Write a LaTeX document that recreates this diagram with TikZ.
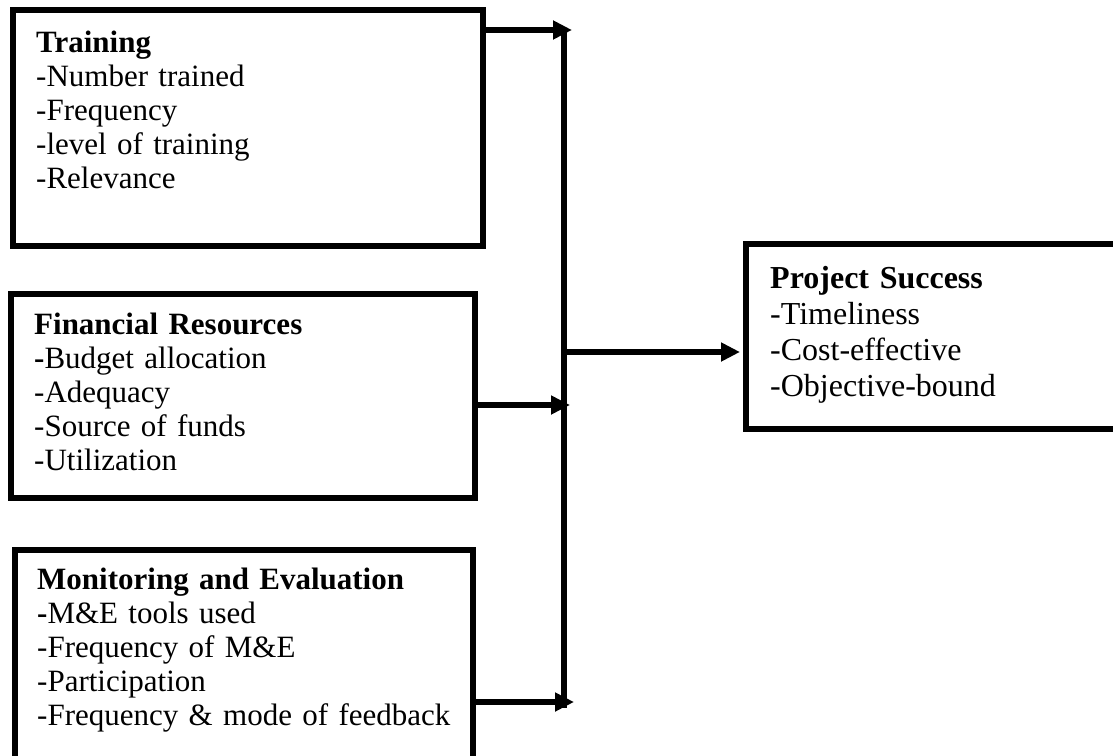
\documentclass[tikz,border=0pt]{standalone}
\usepackage{fontspec}
\setmainfont{Liberation Serif}
\usetikzlibrary{arrows.meta}
\begin{document}
\begin{tikzpicture}[x=1pt,y=-1pt,
  box/.style={draw, line width=6pt, rectangle, inner sep=0pt},
  lefttext/.style={anchor=base west, text width=430pt, align=left, inner sep=0pt,
    font=\fontsize{31}{34.2}\selectfont},
  righttext/.style={anchor=base west, text width=330pt, align=left, inner sep=0pt,
    font=\fontsize{32}{36.3}\selectfont},
  arr/.style={line width=6pt, -{Triangle[length=19pt,width=18pt]}},
  busline/.style={line width=6pt}]
\useasboundingbox (0,0) rectangle (1113,755);
\fill[white] (0,0) rectangle (1113,755);
% boxes
\node[box, minimum width=470pt, minimum height=236pt] (train) at (248,128) {};
\node[box, minimum width=464pt, minimum height=204pt] (fin) at (242.5,396) {};
\node[box, minimum width=457.5pt, minimum height=220pt] (me) at (243.75,660) {};
\node[box, minimum width=380pt, minimum height=185pt] (proj) at (936,336) {};
% texts
\node[lefttext] (trainT) at (36,52) {\textbf{Training}\\-Number trained\\-Frequency\\-level of training\\-Relevance};
\node[lefttext] (finT) at (34,334) {\textbf{Financial Resources}\\\textbf{-}Budget allocation\\-Adequacy\\-Source of funds\\-Utilization};
\node[lefttext] (meT) at (37,589) {\textbf{Monitoring and Evaluation}\\\textbf{-}M\&E tools used\\-Frequency of M\&E\\-Participation\\-Frequency \& mode of feedback};
\node[righttext] (projT) at (770,288) {\textbf{Project Success}\\-Timeliness\\-Cost-effective\\-Objective-bound};
% connectors
\coordinate (busTop) at (564,30);
\coordinate (busBot) at (564,708);
\draw[busline] (busTop) -- (busBot);
\coordinate (tA) at (572,30);
\coordinate (fA) at (570,405);
\coordinate (mA) at (574,702);
\coordinate (pA) at (564,352);
\draw[arr] (train.east |- tA) -- (tA);
\draw[arr] (fin.east |- fA) -- (fA);
\draw[arr] (me.east |- mA) -- (mA);
\draw[arr, shorten >=3pt] (pA) -- (proj.west |- pA);
\end{tikzpicture}
\end{document}
